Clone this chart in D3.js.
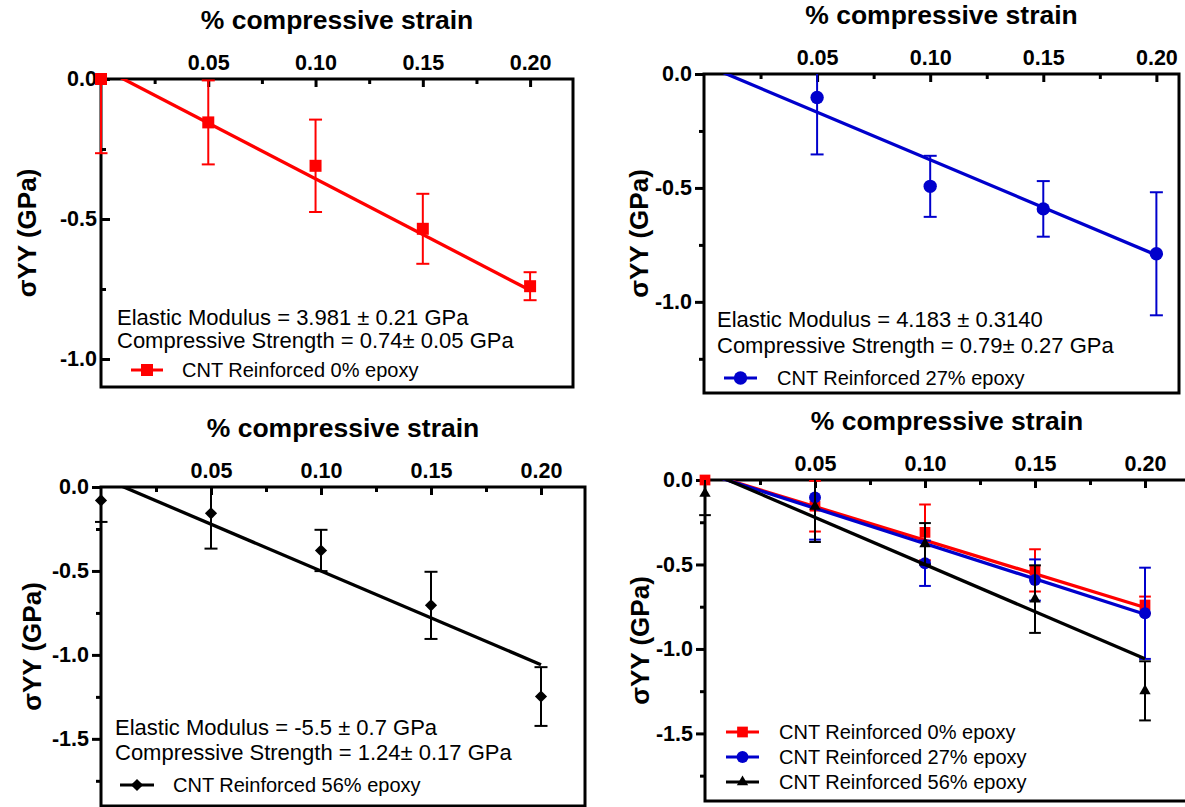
<!DOCTYPE html>
<html>
<head>
<meta charset="utf-8">
<script src="https://cdn.jsdelivr.net/npm/d3@7"></script>
<style>
body { margin: 0; background: #fff; }
svg { display: block; font-family: Arial, "Liberation Sans", sans-serif; }
</style>
</head>
<body>
<svg width="1185" height="807"></svg>
<script>
// data (strain, stress in GPa, error in GPa)
var strain = [0, 0.05, 0.10, 0.15, 0.20];
var stress0 = [0, -0.155, -0.31, -0.535, -0.74];
var err0 = [0.265, 0.15, 0.165, 0.125, 0.05];

var strain27 = [0.05, 0.10, 0.15, 0.20];
var stress27 = [-0.103, -0.493, -0.592, -0.789];
var err27 = [0.25, 0.134, 0.122, 0.27];

var stress56 = [-0.08, -0.157, -0.378, -0.705, -1.248];
var err56 = [0.128, 0.21, 0.123, 0.2, 0.175];

// linear fits [slope, intercept] and their x range
var fit0 = [-3.98, 0.0415];
var fit27 = [-4.183, 0.0418];
var fit56 = [-5.58, 0.0576];
var fitRange = [0, 0.20];

var xTicks = [0.05, 0.10, 0.15, 0.20];
var xMinor = [0.025, 0.075, 0.125, 0.175];
var legendNames = ["CNT Reinforced 0% epoxy", "CNT Reinforced 27% epoxy", "CNT Reinforced 56% epoxy"];
var notes0 = ["Elastic Modulus = 3.981 ± 0.21 GPa", "Compressive Strength = 0.74± 0.05 GPa"];
var notes27 = ["Elastic Modulus = 4.183 ± 0.3140", "Compressive Strength = 0.79± 0.27 GPa"];
var notes56 = ["Elastic Modulus = -5.5 ± 0.7 GPa", "Compressive Strength = 1.24± 0.17 GPa"];

var svg = d3.select("svg");
var loc = d3.formatLocale({decimal: ".", thousands: ",", grouping: [3], currency: ["", ""], minus: "-"});
var fx = loc.format(".2f"), fy = loc.format(".1f");

var red = "#ff0000", blue = "#0000cc", black = "#000000";

function series(xs, ys, es, fit, color, shape, name) {
    return {pts: xs.map(function (v, i) { return {x: v, y: ys[i], e: es[i]}; }),
            fit: fit, color: color, shape: shape, name: name};
}
var s0 = series(strain, stress0, err0, fit0, red, "square", legendNames[0]);
var s27 = series(strain27, stress27, err27, fit27, blue, "circle", legendNames[1]);
var s56 = series(strain, stress56, err56, fit56, black, "diamond", legendNames[2]);
var s56t = series(strain, stress56, err56, fit56, black, "triangle", legendNames[2]);

var panels = [
    {left: 101, top: 79, right: 573, bottom: 387, xMax: 0.22, yMin: -1.1,
     yTicks: [0, -0.5, -1.0], yMinor: [-0.25, -0.75], tickIn: true,
     series: [s0], notes: notes0, notesX: 117, notesY: [325, 348],
     legX: [131, 163], legY: [370], legTextX: 182, labelX: 27, msize: 1},
    {left: 704, top: 74, right: 1179, bottom: 393, xMax: 0.21, yMin: -1.4,
     yTicks: [0, -0.5, -1.0], yMinor: [-0.25, -0.75, -1.25], tickIn: false,
     series: [s27], notes: notes27, notesX: 717, notesY: [327, 353],
     legX: [724, 757], legY: [378], legTextX: 777, labelX: 639, msize: 1},
    {left: 101, top: 487, right: 585, bottom: 806, xMax: 0.22, yMin: -1.9,
     yTicks: [0, -0.5, -1.0, -1.5], yMinor: [-0.25, -0.75, -1.25, -1.75], tickIn: false,
     series: [s56], notes: notes56, notesX: 115, notesY: [735, 760],
     legX: [120, 154], legY: [785], legTextX: 173, labelX: 32, msize: 1},
    {left: 705, top: 480, right: 1189, bottom: 801, xMax: 0.22, yMin: -1.9,
     yTicks: [0, -0.5, -1.0, -1.5], yMinor: [-0.25, -0.75, -1.25, -1.75], tickIn: false,
     series: [s0, s27, s56t], notes: [], notesX: 0, notesY: [],
     legX: [726, 759], legY: [732, 757, 782], legTextX: 779, labelX: 640, msize: 0.8, hideZeroErr: [true, false, false]}
];

function symbolPath(shape, k) {
    if (shape == "square") return d3.symbol(d3.symbolSquare, 144 * k)();
    if (shape == "circle") return d3.symbol(d3.symbolCircle, 140 * k)();
    if (shape == "diamond") return d3.symbol(d3.symbolSquare, 74 * k)();
    return d3.symbol(d3.symbolTriangle, 70 * k)();
}

function drawMarker(g, s, cx, cy, k) {
    g.append("path")
        .attr("d", symbolPath(s.shape, k))
        .attr("transform", "translate(" + cx + "," + cy + ")" + (s.shape == "diamond" ? " rotate(45)" : ""))
        .attr("fill", s.color);
}

function drawPanel(p, pi) {
    var g = svg.append("g");
    var x = d3.scaleLinear().domain([0, p.xMax]).range([p.left, p.right]);
    var y = d3.scaleLinear().domain([p.yMin, 0]).range([p.bottom, p.top]);

    g.append("clipPath").attr("id", "clip" + pi)
        .append("rect")
        .attr("x", p.left - 6).attr("y", p.top)
        .attr("width", p.right - p.left + 6).attr("height", p.bottom - p.top);

    // title
    g.append("text")
        .attr("x", (p.left + p.right) / 2).attr("y", p.top - 50)
        .attr("text-anchor", "middle")
        .style("font-size", "26.5px").style("font-weight", "bold")
        .text("% compressive strain");

    // y label
    g.append("text")
        .attr("transform", "translate(" + p.labelX + "," + (p.top + p.bottom) / 2 + ") rotate(-90)")
        .attr("text-anchor", "middle").attr("dominant-baseline", "central")
        .style("font-size", "26px").style("font-weight", "bold")
        .text("σYY (GPa)");

    // frame
    g.append("rect")
        .attr("x", p.left).attr("y", p.top)
        .attr("width", p.right - p.left).attr("height", p.bottom - p.top)
        .attr("fill", "none").attr("stroke", "#000").attr("stroke-width", 3);

    // x axis on top
    var ax = g.append("g").attr("transform", "translate(0," + p.top + ")")
        .call(d3.axisTop(x).tickValues(xTicks).tickFormat(fx).tickSize(-8).tickPadding(9));
    g.append("g").attr("transform", "translate(0," + p.top + ")")
        .call(d3.axisTop(x).tickValues(xMinor).tickFormat("").tickSize(-5))
        .call(function (a) { a.select(".domain").remove(); a.selectAll("line").attr("stroke-width", 3); });
    ax.select(".domain").remove();
    ax.selectAll("line").attr("stroke-width", 3);
    ax.attr("font-family", null).attr("font-size", 21.5).attr("font-weight", "bold");

    // y axis
    var ay = g.append("g").attr("transform", "translate(" + p.left + ",0)")
        .call(d3.axisLeft(y).tickValues(p.yTicks).tickFormat(fy)
            .tickSize(p.tickIn ? -9 : 9).tickPadding(p.tickIn ? 4 : 3));
    g.append("g").attr("transform", "translate(" + p.left + ",0)")
        .call(d3.axisLeft(y).tickValues(p.yMinor).tickFormat("").tickSize(p.tickIn ? -5 : 5))
        .call(function (a) { a.select(".domain").remove(); a.selectAll("line").attr("stroke-width", 3); });
    ay.select(".domain").remove();
    ay.selectAll("line").attr("stroke-width", 3);
    ay.attr("font-family", null).attr("font-size", 21.5).attr("font-weight", "bold");

    var cap = 6.5 * (p.msize < 1 ? 0.9 : 1);

    p.series.forEach(function (s, si) {
        var sg = g.append("g");
        var line = d3.line()
            .x(function (d) { return x(d); })
            .y(function (d) { return y(s.fit[0] * d + s.fit[1]); });
        sg.append("path").datum(fitRange)
            .attr("d", line)
            .attr("clip-path", "url(#clip" + pi + ")")
            .attr("fill", "none").attr("stroke", s.color).attr("stroke-width", 3.3);

        var eg = sg.append("g").attr("clip-path", "url(#clip" + pi + ")")
            .attr("stroke", s.color).attr("stroke-width", 2);
        s.pts.forEach(function (d) {
            if (p.hideZeroErr && p.hideZeroErr[si] && d.x == 0) return;
            var cx = x(d.x), y1 = y(d.y - d.e), y2 = y(d.y + d.e);
            eg.append("line").attr("x1", cx).attr("x2", cx).attr("y1", y1).attr("y2", y2);
            eg.append("line").attr("x1", cx - cap).attr("x2", cx + cap).attr("y1", y1).attr("y2", y1);
            eg.append("line").attr("x1", cx - cap).attr("x2", cx + cap).attr("y1", y2).attr("y2", y2);
        });
        s.pts.forEach(function (d) {
            drawMarker(sg, s, x(d.x), y(d.y), p.msize);
        });
    });

    // annotations
    p.notes.forEach(function (t, i) {
        g.append("text").attr("x", p.notesX).attr("y", p.notesY[i])
            .style("font-size", "22px").text(t);
    });

    // legend
    p.series.forEach(function (s, i) {
        var ly = p.legY[i];
        g.append("line")
            .attr("x1", p.legX[0]).attr("x2", p.legX[1]).attr("y1", ly).attr("y2", ly)
            .attr("stroke", s.color).attr("stroke-width", 3);
        drawMarker(g, s, (p.legX[0] + p.legX[1]) / 2, ly, p.msize);
        g.append("text").attr("x", p.legTextX).attr("y", ly + 7)
            .style("font-size", "20px").text(s.name);
    });
}

panels.forEach(drawPanel);
</script>
</body>
</html>
